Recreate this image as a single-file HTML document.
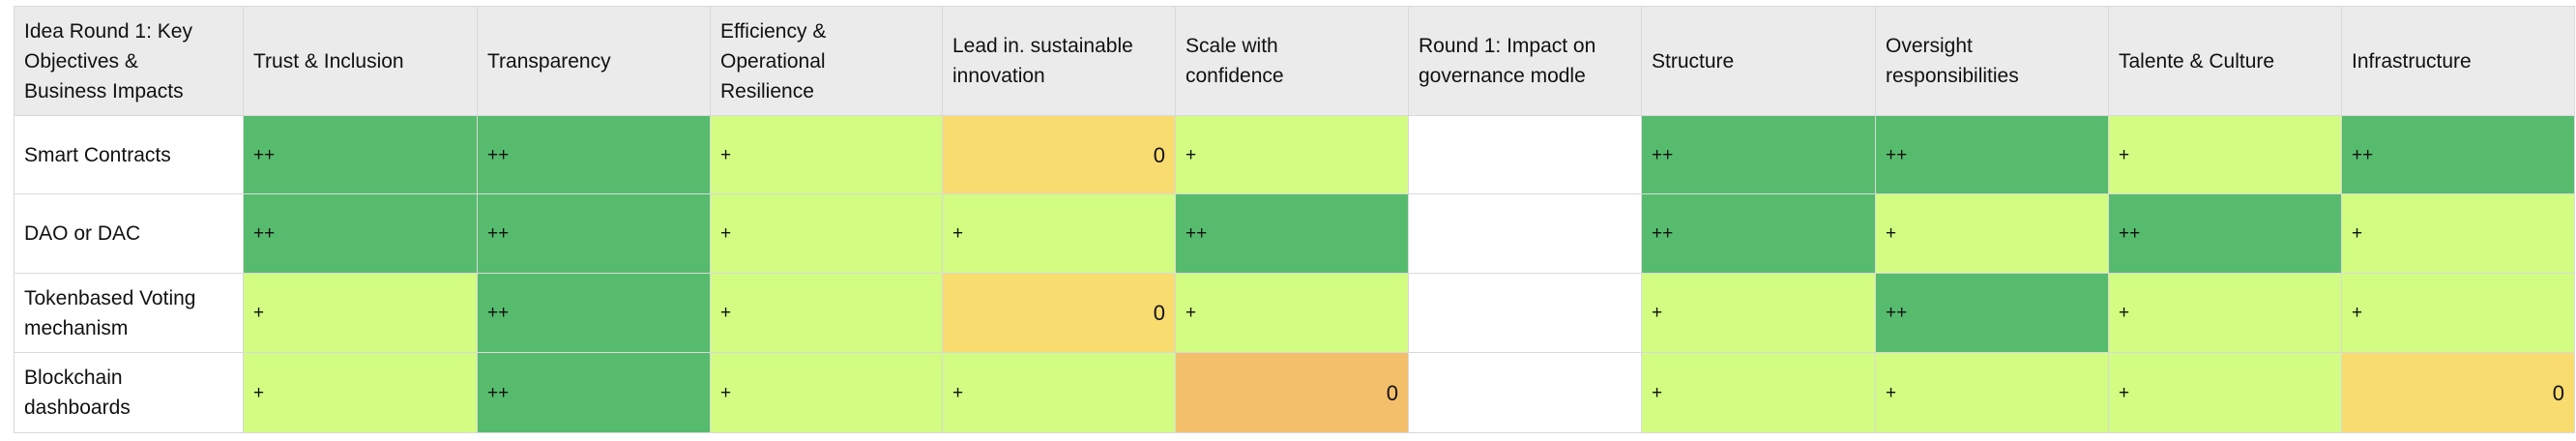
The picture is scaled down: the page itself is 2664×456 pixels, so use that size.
<!DOCTYPE html>
<html><head><meta charset="utf-8"><style>
body{margin:0;width:2664px;height:456px;background:#fff;overflow:hidden;font-family:"Liberation Sans",sans-serif;}
#t{position:absolute;left:0;top:0;}
.c{position:absolute;box-sizing:border-box;border:1px solid #d9d9d9;display:flex;align-items:center;padding:0 10px;color:#111;font-size:21px;line-height:31px;white-space:pre-line;}
.h{background:#ebebeb;}
.v{font-size:19px;}
</style></head><body>
<div id="t"></div>
<script>
const headers=["Idea Round 1: Key\nObjectives &\nBusiness Impacts","Trust & Inclusion","Transparency","Efficiency &\nOperational\nResilience","Lead in. sustainable\ninnovation","Scale with\nconfidence","Round 1: Impact on\ngovernance modle","Structure","Oversight\nresponsibilities","Talente & Culture","Infrastructure"];
const rowLabels=["Smart Contracts","DAO or DAC","Tokenbased Voting\nmechanism","Blockchain\ndashboards"];
const ratings=[
["++","++","+","0","+","","++","++","+","++"],
["++","++","+","+","++","","++","+","++","+"],
["+","++","+","0","+","","+","++","+","+"],
["+","++","+","+","0o","","+","+","+","0"]];
const colX=[14,251,493,734,974,1215,1456,1697,1939,2180,2421,2662];
const rowY=[6,119,200,282,364,447];
const fills={"++":"#57bb6e","+":"#d2fc82","0":"#f9dc70","0o":"#f3bf6a","":"#ffffff"};
const t=document.getElementById('t');
function cell(x0,x1,y0,y1,cls,txt,name){
  const d=document.createElement('div');
  d.className='c '+cls;
  d.style.left=x0+'px';d.style.top=y0+'px';
  d.style.width=(x1-x0+1)+'px';d.style.height=(y1-y0+1)+'px';
  d.textContent=txt;
  
  
  t.appendChild(d);return d;
}
headers.forEach((h,i)=>{const d=cell(colX[i],colX[i+1],rowY[0],rowY[1],'h',h,'column-header');});
rowLabels.forEach((r,ri)=>{
  cell(colX[0],colX[1],rowY[ri+1],rowY[ri+2],'',r,'row-label');
  ratings[ri].forEach((v,ci)=>{
    const txt=v==="0o"?"0":v;
    const d=cell(colX[ci+1],colX[ci+2],rowY[ri+1],rowY[ri+2],'v',txt,'rating-cell');
    d.style.background=fills[v];
    if(txt==="0"){d.style.justifyContent="flex-end";d.style.fontSize="22px";}
  });
});
</script>
</body></html>
